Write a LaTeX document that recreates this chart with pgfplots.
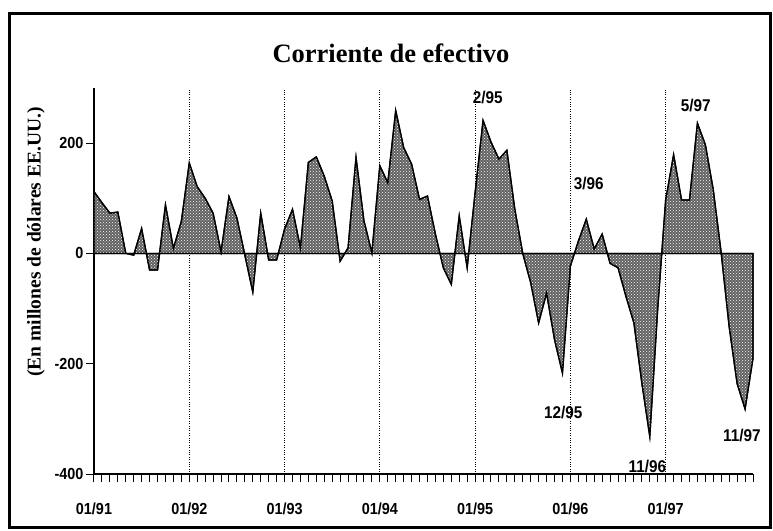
\documentclass[border=0pt]{standalone}
\usepackage{fontspec}
\setmainfont{Liberation Serif}
\newfontfamily\lsans{Liberation Sans}[FakeStretch=0.9]
\usepackage{pgfplots}
\pgfplotsset{compat=1.18}
\usetikzlibrary{patterns}
\tikzset{lab/.style={font=\lsans\bfseries\fontsize{17}{17}\selectfont}}
\begin{document}
\begin{tikzpicture}
\begin{axis}[anchor=south west, scale only axis,
  width=659pt, height=386pt,
  xmin=0, xmax=83, ymin=-400, ymax=300,
  axis x line*=bottom, axis y line*=left,
  axis line style={line width=1.5pt},
  xtick={0,12,24,36,48,60,72},
  xticklabels={01/91,01/92,01/93,01/94,01/95,01/96,01/97},
  minor xtick={0,1,...,83},
  ytick={-400,-200,0,200},
  yticklabels={-400,-200,0,200},
  tick align=outside,
  major tick length=8pt, minor tick length=8pt,
  every tick/.style={black, line width=1pt},
  xmajorgrids, grid style={dotted, line width=1pt, black},
  ticklabel style={font=\lsans\bfseries\fontsize{16}{16}\selectfont},
  xticklabel style={yshift=-17pt},
  yticklabel style={xshift=1pt},
  clip=false
]
\addplot[fill=black!62, draw=black, line width=1.3pt,
  postaction={pattern=crosshatch dots, pattern color=white}] coordinates {
(0,112) (1,92) (2,73) (3,75) (4,0) (5,-3) (6,45) (7,-30) (8,-30) (9,88)
(10,9) (11,58) (12,164) (13,121) (14,100) (15,73) (16,3) (17,103) (18,64) (19,-3)
(20,-70) (21,73) (22,-12) (23,-12) (24,44) (25,80) (26,10) (27,165) (28,175) (29,140)
(30,95) (31,-14) (32,10) (33,174) (34,59) (35,1) (36,159) (37,128) (38,259) (39,192)
(40,162) (41,98) (42,104) (43,35) (44,-26) (45,-56) (46,68) (47,-26) (48,110) (49,241)
(50,202) (51,171) (52,187) (53,80) (54,0) (55,-53) (56,-126) (57,-72) (58,-156) (59,-217)
(60,-23) (61,22) (62,62) (63,8) (64,35) (65,-18) (66,-26) (67,-78) (68,-126) (69,-235)
(70,-332) (71,-100) (72,97) (73,179) (74,97) (75,97) (76,236) (77,197) (78,115) (79,0)
(80,-133) (81,-236) (82,-282) (83,-190)
} \closedcycle;
\addplot[black, line width=1.4pt] coordinates {(0,0) (83,0)};
\node[lab] at (axis cs:49.6,282) {2/95};
\node[lab] at (axis cs:62.3,127) {3/96};
\node[lab] at (axis cs:75.8,268) {5/97};
\node[lab] at (axis cs:59.1,-289) {12/95};
\node[lab] at (axis cs:69.7,-387) {11/96};
\node[lab] at (axis cs:81.6,-330) {11/97};
\end{axis}
\path[use as bounding box] (-94pt,-56pt) rectangle (679pt,474pt);
\draw[line width=3pt] (-84pt,-53pt) rectangle (676pt,460pt);
\node[font=\bfseries\fontsize{26.5}{30}\selectfont] at (297pt,421pt) {Corriente de efectivo};
\node[rotate=90,font=\bfseries\fontsize{19.5}{24}\selectfont] at (-58pt,232pt) {(En millones de dólares EE.UU.)};
\end{tikzpicture}
\end{document}
